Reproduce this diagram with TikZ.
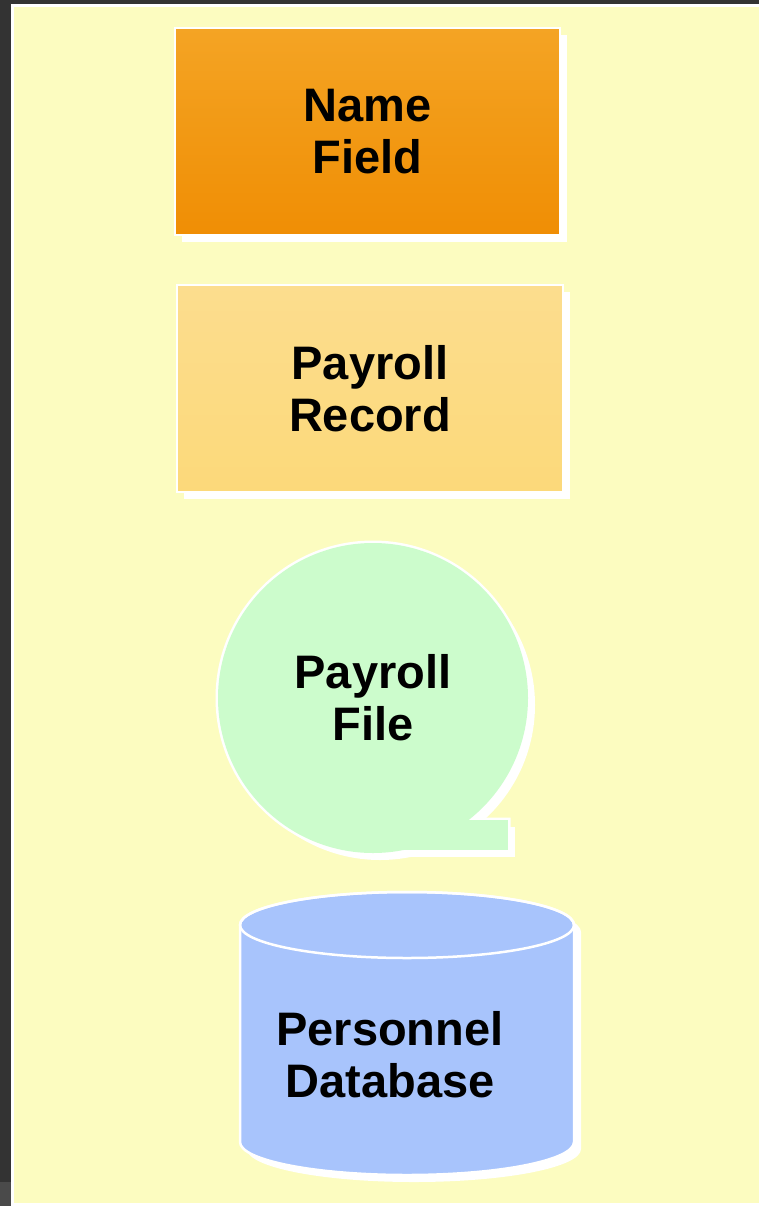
\documentclass[tikz,border=0pt]{standalone}
\usepackage{fontspec}
\setmainfont{Liberation Sans}
\usetikzlibrary{shadows}

\definecolor{frame}{HTML}{333333}
\definecolor{frameend}{HTML}{4A4A4A}
\definecolor{panel}{HTML}{FCFCC0}
\definecolor{fieldtop}{HTML}{F4A424}
\definecolor{fieldbot}{HTML}{F08E04}
\definecolor{recordtop}{HTML}{FCDD8E}
\definecolor{recordbot}{HTML}{FCD97A}
\definecolor{filegreen}{HTML}{CCFCCC}
\definecolor{dbblue}{HTML}{A8C4FC}

\tikzset{
  bigtext/.style={font=\bfseries\fontsize{47}{52}\selectfont, align=center, text=black},
  whiteshadow/.style={drop shadow={fill=white, opacity=1, shadow xshift=7pt, shadow yshift=-7pt}},
  levelbox/.style={draw=white, line width=2.5pt, minimum width=385pt, minimum height=207pt, whiteshadow, bigtext},
}

\begin{document}
\begin{tikzpicture}[x=1pt, y=-1pt]
  \useasboundingbox (0,0) rectangle (759,1206);
  % frame and panel
  \fill[frame] (0,0) rectangle (759,1206);
  \fill[frameend] (0,1182) rectangle (11,1206);
  \fill[white] (11,4) rectangle (759,1206);
  \fill[panel] (13.5,7) rectangle (759,1203);

  % field and record
  \node[levelbox, top color=fieldtop, bottom color=fieldbot] (namefield) at (367.5,131.5) {Name\\Field};
  \node[levelbox, top color=recordtop, bottom color=recordbot, minimum width=386pt] (payrecord) at (370,388.5) {Payroll\\Record};

  % file: circle with a tab
  \def\fx{373}
  \def\fy{698}
  \def\fr{155}
  \fill[white, shift={(7,7)}] (\fx,\fy) circle (\fr);
  \fill[white, shift={(7,7)}] (395,820) rectangle (508,850);
  \draw[white, line width=5pt] (\fx,\fy) circle (\fr) (395,820) rectangle (508,850);
  \fill[filegreen] (\fx,\fy) circle (\fr);
  \fill[filegreen] (395,820) rectangle (508,850);
  \node[bigtext] (payfile) at (\fx,\fy) {Payroll\\File};

  % database cylinder
  \def\dbx{407}
  \def\rx{167}
  \def\ry{33}
  \def\ytop{925}
  \def\ybot{1142}
  \fill[white, shift={(7,7)}] (\dbx-\rx,\ytop) -- (\dbx-\rx,\ybot)
    arc[start angle=180, end angle=0, x radius=\rx, y radius=\ry]
    -- (\dbx+\rx,\ytop) arc[start angle=360, end angle=180, x radius=\rx, y radius=\ry] -- cycle;
  \draw[white, line width=2.5pt, fill=dbblue] (\dbx-\rx,\ytop) -- (\dbx-\rx,\ybot)
    arc[start angle=180, end angle=0, x radius=\rx, y radius=\ry]
    -- (\dbx+\rx,\ytop) arc[start angle=360, end angle=180, x radius=\rx, y radius=\ry] -- cycle;
  \draw[white, line width=2.5pt] (\dbx,\ytop) ellipse [x radius=\rx, y radius=\ry];
  \node[bigtext] (personneldb) at (390,1055) {Personnel\\Database};
\end{tikzpicture}
\end{document}
